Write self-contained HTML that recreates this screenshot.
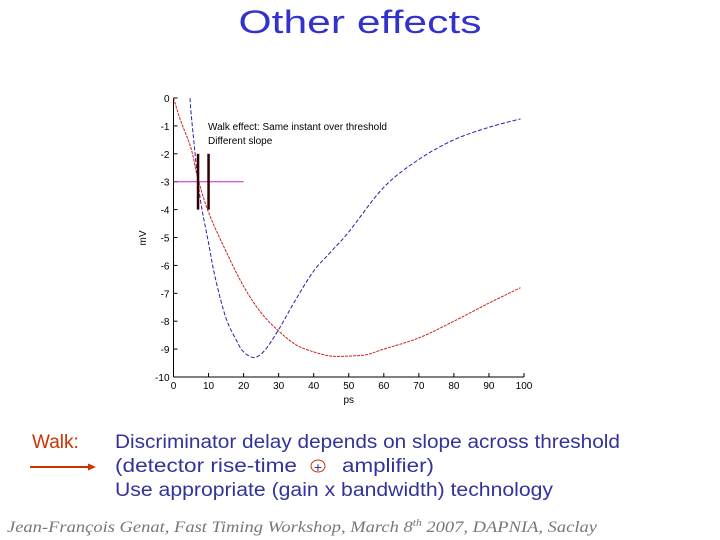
<!DOCTYPE html>
<html><head><meta charset="utf-8"><style>
html,body{margin:0;padding:0;background:#fff;}
svg{display:block;}
</style></head><body>
<svg id="page" width="720" height="540" viewBox="0 0 720 540" xmlns="http://www.w3.org/2000/svg">
<text x="360" y="33" text-anchor="middle" font-family="Liberation Sans, sans-serif" font-size="32" fill="#3333cc" textLength="243" lengthAdjust="spacingAndGlyphs">Other effects</text>
<g id="chart"></g>
<text x="32" y="448" font-family="Liberation Sans, sans-serif" font-size="19" fill="#cc3300">Walk:</text>
<g><line x1="30" y1="467" x2="88" y2="467" stroke="#cc3300" stroke-width="2"/><polygon points="88,463.5 96,467 88,470.5" fill="#cc3300"/></g>
<text x="115" y="448" font-family="Liberation Sans, sans-serif" font-size="19" fill="#333399" textLength="505" lengthAdjust="spacingAndGlyphs">Discriminator delay depends on slope across threshold</text>
<text x="115" y="472" font-family="Liberation Sans, sans-serif" font-size="19" fill="#333399" textLength="182" lengthAdjust="spacingAndGlyphs">(detector rise-time</text>
<g><ellipse cx="318" cy="466" rx="7" ry="6" fill="none" stroke="#cc3300" stroke-width="1"/><text x="318" y="472" text-anchor="middle" font-family="Liberation Sans, sans-serif" font-size="14" fill="#333399">+</text></g>
<text x="342" y="472" font-family="Liberation Sans, sans-serif" font-size="19" fill="#333399" textLength="92" lengthAdjust="spacingAndGlyphs">amplifier)</text>
<text x="115" y="496" font-family="Liberation Sans, sans-serif" font-size="19" fill="#333399" textLength="438" lengthAdjust="spacingAndGlyphs">Use appropriate  (gain x bandwidth) technology</text>
<text x="7" y="532" font-family="Liberation Serif, serif" font-style="italic" font-size="16" fill="#777" textLength="590" lengthAdjust="spacingAndGlyphs">Jean-François  Genat,   Fast Timing Workshop, March 8<tspan font-size="10" dy="-6">th</tspan><tspan dy="6"> 2007, DAPNIA, Saclay</tspan></text>
</svg>
<script>
const xTicks=[0,10,20,30,40,50,60,70,80,90,100];
const yTicks=[0,-1,-2,-3,-4,-5,-6,-7,-8,-9,-10];
const yTickLabels=["0","-1","-2","-3","-4","-5","-6","-7","-8","-9","-10"];
const blueX=[4.6,5,6,7,8,10,12,15,18,20,23,26,30,35,40,45,50,60,70,80,90,99];
const blueY=[0.2,-0.5,-1.8,-3,-3.9,-5.2,-6.5,-7.9,-8.7,-9.1,-9.3,-9.05,-8.3,-7.2,-6.2,-5.5,-4.8,-3.2,-2.2,-1.5,-1.05,-0.75];
const redX=[0,2,5,7,10,15,20,25,30,35,40,45,50,55,60,70,80,90,99];
const redY=[0,-0.8,-1.8,-2.9,-4.1,-5.5,-6.75,-7.7,-8.35,-8.85,-9.1,-9.25,-9.25,-9.2,-9.0,-8.6,-8.0,-7.35,-6.8];
const markX=[7,10];
const markYRange=[-2,-4];
const thresholdY=-3;
const thresholdXRange=[0,20];
const X0=173.5,X1=524,Y0=98,Y1=377;
const sx=v=>X0+(v-0)/(100-0)*(X1-X0);
const sy=v=>Y0+(0-v)/(0-(-10))*(Y1-Y0);
const NS="http://www.w3.org/2000/svg";
const g=document.getElementById('chart');
function mk(t,a,p){const e=document.createElementNS(NS,t);for(const k in a)e.setAttribute(k,a[k]);(p||g).appendChild(e);return e;}
const clip=mk('clipPath',{id:'pc'});mk('rect',{x:X0,y:Y0,width:X1-X0,height:Y1-Y0},clip);
let e=mk('line',{x1:X0,y1:Y0,x2:X0,y2:Y1,stroke:'#000','stroke-width':1});


e=mk('line',{x1:X0,y1:Y1,x2:X1,y2:Y1,stroke:'#000','stroke-width':1});


xTicks.forEach(v=>{
 mk('line',{x1:sx(v),y1:Y1,x2:sx(v),y2:Y1-4,stroke:'#000'});
 const t=mk('text',{x:sx(v),y:Y1+12,'text-anchor':'middle','font-family':'Liberation Sans, sans-serif','font-size':10,fill:'#000'});
 t.textContent=v;
 
 
});
yTicks.forEach((v,i)=>{
 mk('line',{x1:X0,y1:sy(v),x2:X0+4,y2:sy(v),stroke:'#000'});
 const t=mk('text',{x:X0-4,y:sy(v)+4,'text-anchor':'end','font-family':'Liberation Sans, sans-serif','font-size':10,fill:'#000'});
 t.textContent=yTickLabels[i];
 
 
});
e=mk('text',{x:sx(50),y:Y1+26,'text-anchor':'middle','font-family':'Liberation Sans, sans-serif','font-size':10});
e.textContent='ps';


e=mk('text',{x:146,y:238,'text-anchor':'middle','font-family':'Liberation Sans, sans-serif','font-size':10,transform:'rotate(-90 146 238)'});
e.textContent='mV';


function path(xs,ys){
 const P=xs.map((x,i)=>[sx(x),sy(ys[i])]);
 let d='M'+P[0][0].toFixed(1)+','+P[0][1].toFixed(1);
 for(let i=0;i<P.length-1;i++){
  const p0=P[i-1]||P[i],p1=P[i],p2=P[i+1],p3=P[i+2]||p2;
  const c1=[p1[0]+(p2[0]-p0[0])/6,p1[1]+(p2[1]-p0[1])/6];
  const c2=[p2[0]-(p3[0]-p1[0])/6,p2[1]-(p3[1]-p1[1])/6];
  d+=' C'+c1.map(v=>v.toFixed(1))+' '+c2.map(v=>v.toFixed(1))+' '+p2.map(v=>v.toFixed(1));
 }
 return d;
}
e=mk('path',{d:path(redX,redY),fill:'none',stroke:'#cc2222','stroke-width':1,'stroke-dasharray':'3,1','clip-path':'url(#pc)'});


e=mk('path',{d:path(blueX,blueY),fill:'none',stroke:'#2222aa','stroke-width':1,'stroke-dasharray':'4,2','clip-path':'url(#pc)'});


e=mk('line',{x1:sx(thresholdXRange[0]),y1:sy(thresholdY),x2:sx(thresholdXRange[1]),y2:sy(thresholdY),stroke:'#cc22cc','stroke-width':1});


markX.forEach(v=>{
 const m=mk('line',{x1:sx(v),y1:sy(markYRange[0]),x2:sx(v),y2:sy(markYRange[1]),stroke:'#300','stroke-width':2.5});
 
 
});
e=mk('text',{x:208,y:130,'font-family':'Liberation Sans, sans-serif','font-size':10,fill:'#000'});
e.textContent='Walk effect: Same instant over threshold';


e=mk('text',{x:208,y:144,'font-family':'Liberation Sans, sans-serif','font-size':10,fill:'#000'});
e.textContent='Different slope';


</script>
</body></html>
